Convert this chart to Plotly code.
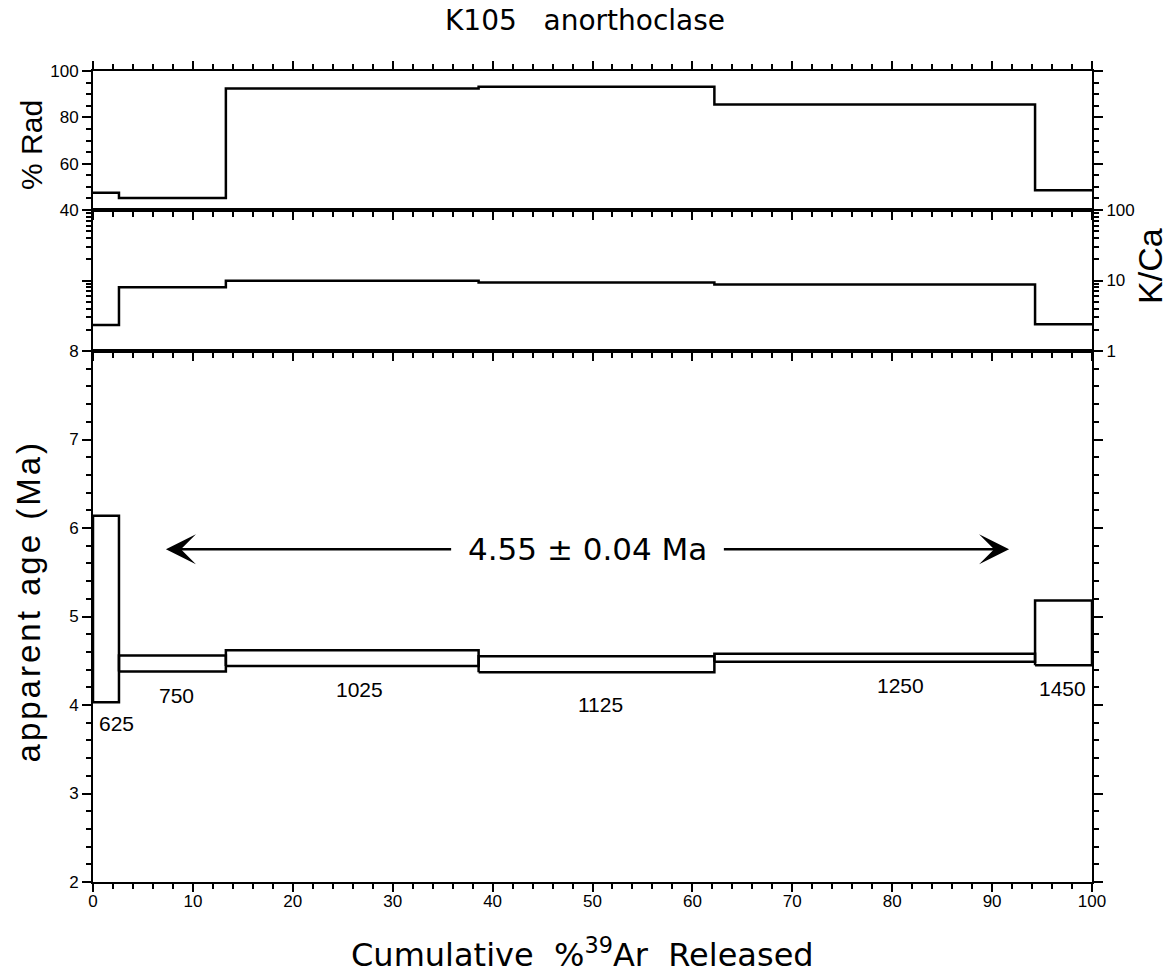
import plotly.graph_objects as go

# Step-heating results (cumulative % 39Ar boundaries of each step)
cum_ar39 = [0.0, 2.6, 13.3, 38.6, 62.2, 94.3, 100.0]
step_temp = ["625", "750", "1025", "1125", "1250", "1450"]
pct_rad = [47.4, 45.2, 92.5, 93.2, 85.5, 48.5]
k_ca = [2.35, 8.0, 9.9, 9.4, 8.8, 2.4]
age_upper = [6.14, 4.56, 4.62, 4.55, 4.58, 5.18]
age_lower = [4.03, 4.38, 4.44, 4.37, 4.49, 4.45]

# temperature label anchor points (x = cum % 39Ar, y = age)
temp_label_x = [2.4, 8.4, 26.7, 50.8, 80.8, 97.0]
temp_label_y = [3.79, 4.11, 4.17, 4.01, 4.22, 4.19]

plateau_age = 4.55
plateau_err = 0.04
plateau_start, plateau_end = 7.3, 91.7

x_ticks = list(range(0, 101, 10))

LINE = dict(color="black", width=2.5)
TICKFONT = dict(family="Liberation Sans", size=17, color="black")

fig = go.Figure()

# % radiogenic spectrum
fig.add_trace(go.Scatter(
    x=cum_ar39, y=pct_rad + [pct_rad[-1]], mode="lines", line_shape="hv",
    line=LINE, xaxis="x3", yaxis="y3", showlegend=False, hoverinfo="skip"))

# K/Ca spectrum
fig.add_trace(go.Scatter(
    x=cum_ar39, y=k_ca + [k_ca[-1]], mode="lines", line_shape="hv",
    line=LINE, xaxis="x2", yaxis="y2", showlegend=False, hoverinfo="skip"))

# apparent age boxes (one rectangle per step)
bx, by = [], []
for i in range(len(step_temp)):
    x0, x1 = cum_ar39[i], cum_ar39[i + 1]
    lo, hi = age_lower[i], age_upper[i]
    bx += [x0, x1, x1, x0, x0, None]
    by += [lo, lo, hi, hi, lo, None]
fig.add_trace(go.Scatter(
    x=bx, y=by, mode="lines", line=LINE, xaxis="x", yaxis="y",
    showlegend=False, hoverinfo="skip"))

# step temperature labels
for t, lx, ly in zip(step_temp, temp_label_x, temp_label_y):
    fig.add_annotation(x=lx, y=ly, xref="x", yref="y", text=t, showarrow=False,
                       font=dict(family="Liberation Sans", size=21, color="black"))

# plateau age with arrows
arrow_y = 5.76
plateau_text = f"{plateau_age:.2f} \u00b1 {plateau_err:.2f} Ma"
fig.add_annotation(x=(plateau_start + plateau_end) / 2, y=arrow_y, xref="x", yref="y",
                   text=plateau_text, showarrow=False,
                   font=dict(family="DejaVu Sans", size=31, color="black"))
for tip, tail in ((plateau_start, 36.0), (plateau_end, 63.0)):
    fig.add_annotation(x=tip, y=arrow_y, ax=tail, ay=arrow_y, xref="x", yref="y",
                       axref="x", ayref="y", text="", showarrow=True,
                       arrowhead=3, arrowsize=2.0, arrowwidth=2.5, arrowcolor="black")


def paper_label(text, x, y, size, family, angle=0):
    fig.add_annotation(x=x, y=y, xref="paper", yref="paper", text=text,
                       textangle=angle, showarrow=False, xanchor="center",
                       yanchor="middle",
                       font=dict(family=family, size=size, color="black"))


# titles
paper_label("K105\u00a0\u00a0\u00a0anorthoclase", 0.4925, 1.062, 28, "DejaVu Sans")
paper_label("Cumulative\u00a0\u00a0%<sup>39</sup>Ar\u00a0\u00a0Released", 0.49, -0.088, 32,
            "DejaVu Sans")
paper_label("% Rad", -0.0611, 0.9088, 30, "Liberation Sans", -90)
paper_label("K/Ca", 1.058, 0.7596, 34, "Liberation Sans", -90)
paper_label('<span style="letter-spacing:3px">apparent age (Ma)</span>',
            -0.065, 0.346, 33, "Liberation Sans", -90)

xbase = dict(range=[0, 100], showline=True, linecolor="black", linewidth=2,
             showgrid=False, zeroline=False, ticks="outside", tickvals=x_ticks,
             ticklen=8, tickwidth=2, tickcolor="black",
             minor=dict(dtick=2, tick0=0, ticks="outside", ticklen=5, tickwidth=1.5,
                        tickcolor="black"),
             tickfont=TICKFONT)
ybase = dict(showline=True, linecolor="black", linewidth=2, showgrid=False,
             zeroline=False, ticks="outside", ticklen=9, tickwidth=2, tickcolor="black",
             mirror="ticks", tickfont=TICKFONT)

d_age = 0.6547
d_kca = 0.8286

fig.update_layout(
    width=1169, height=974,
    margin=dict(l=93, r=77, t=71, b=92),
    paper_bgcolor="white", plot_bgcolor="white",
    font=TICKFONT,
    xaxis=dict(xbase, anchor="y", domain=[0, 1], mirror=True, ticklabelstandoff=-5),
    xaxis2=dict(xbase, anchor="y2", domain=[0, 1], mirror=True, matches="x",
                showticklabels=False),
    xaxis3=dict(xbase, anchor="y3", domain=[0, 1], mirror="ticks", matches="x",
                showticklabels=False),
    yaxis=dict(ybase, domain=[0, d_age], range=[2, 8], dtick=1,
               minor=dict(dtick=0.2, ticks="outside", ticklen=5, tickwidth=1.5,
                          tickcolor="black")),
    yaxis2=dict(ybase, domain=[d_age, d_kca], type="log", range=[0, 2], side="right",
                tickvals=[1, 10, 100], ticktext=["1", "10", "100"],
                minor=dict(tickvals=[2, 3, 4, 5, 6, 7, 8, 9, 20, 30, 40, 50, 60, 70, 80, 90],
                           ticks="outside", ticklen=5, tickwidth=1.5, tickcolor="black")),
    yaxis3=dict(ybase, domain=[d_kca, 1], range=[40, 100], tickvals=[40, 60, 80, 100],
                minor=dict(dtick=5, tick0=40, ticks="outside", ticklen=5, tickwidth=1.5,
                           tickcolor="black")),
)

fig.write_html("out.html")
